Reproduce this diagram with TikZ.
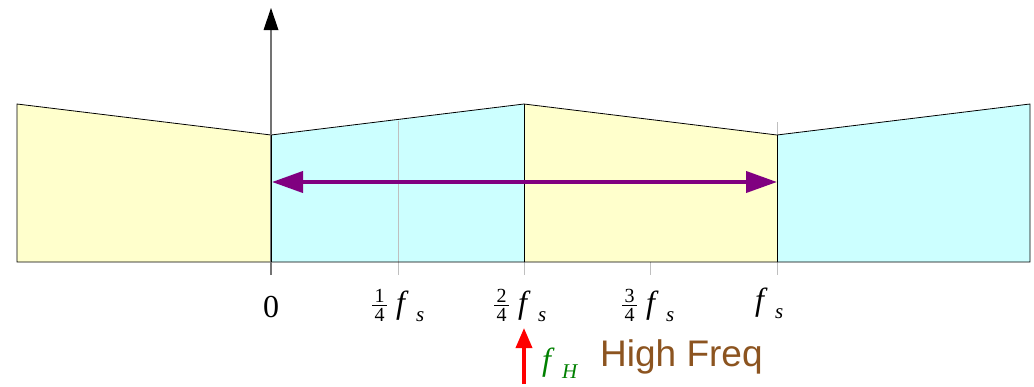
\documentclass[tikz,border=0pt]{standalone}
\usepackage{fontspec}
\setmainfont{Liberation Serif}
\newfontfamily\labelsans{Liberation Sans}
\usetikzlibrary{arrows.meta}
\definecolor{pyellow}{RGB}{255,255,204}
\definecolor{pcyan}{RGB}{204,255,255}
\definecolor{ppurple}{RGB}{128,0,128}
\definecolor{pgreen}{RGB}{0,128,0}
\definecolor{pbrown}{RGB}{140,84,32}
\newcommand\qfrac[2]{{\fontsize{20}{20}\selectfont\setlength{\tabcolsep}{0pt}\begin{tabular}[c]{@{\hspace{2.5pt}}c@{\hspace{2.5pt}}}#1\\[-3pt]\hline\noalign{\vskip 1.5pt}#2\end{tabular}}}
\newcommand\fsub[1]{{\itshape f}\hspace{11pt}\raisebox{-0.28em}{\fontsize{21}{21}\selectfont\itshape #1}}
\tikzset{
  band/.style={draw=black, line width=0.8pt},
  tick/.style={draw=black!25, line width=1pt},
  axisline/.style={draw=black!55, line width=1.6pt},
  ticklabel/.style={font=\fontsize{32}{34}\selectfont, inner sep=0pt},
}
\begin{document}
\begin{tikzpicture}[x=1pt, y=-1pt]
\useasboundingbox (0,0) rectangle (1034,386);
% corner coordinates
\coordinate (a0) at (17,104);
\coordinate (a1) at (271,135);
\coordinate (a2) at (524,104);
\coordinate (a3) at (777,135);
\coordinate (a4) at (1030,104);
% bands
\fill[pyellow] (17,262) -- (a0) -- (a1) -- (271,262) -- cycle;
\fill[pcyan] (271,262) -- (a1) -- (a2) -- (524,262) -- cycle;
\fill[pyellow] (524,262) -- (a2) -- (a3) -- (777,262) -- cycle;
\fill[pcyan] (777,262) -- (a3) -- (a4) -- (1030,262) -- cycle;
% ticks
\draw[tick] (398,121) -- (398,275);
\draw[tick] (524,262) -- (524,275);
\draw[tick] (650,262) -- (650,275);
\draw[tick] (777,122) -- (777,275);
% outlines
\draw[band] (17,262) -- (a0) -- (a1) -- (a2) -- (a3) -- (a4) -- (1030,262) -- cycle;
\draw[band] (a2) -- (524,262);
\draw[band] (a3) -- (777,262);
% axis
\coordinate (ax0) at (271,275);
\coordinate (ax1) at (271,8);
\draw[axisline] (ax0) -- (271,30);
\fill[black] (ax1) -- (263.5,30) -- (278.5,30) -- cycle;
\draw[band] (a1) -- (271,262);
% purple double arrow
\coordinate (pl) at (272,182);
\coordinate (pr) at (777,182);
\draw[ppurple, line width=4pt, {Triangle[length=31pt,width=21pt]}-{Triangle[length=31pt,width=21pt]}] (pl) -- (pr);
% labels
\node[ticklabel, anchor=base] (l0) at (271,317) {0};
\node[ticklabel, anchor=base west] (l1) at (372,313) {\qfrac{1}{4}\hspace{9pt}\fsub{s}};
\node[ticklabel, anchor=base west] (l2) at (494,313) {\qfrac{2}{4}\hspace{9pt}\fsub{s}};
\node[ticklabel, anchor=base west] (l3) at (622,313) {\qfrac{3}{4}\hspace{9pt}\fsub{s}};
\node[ticklabel, anchor=base west] (l4) at (755,310) {\fsub{s}};
% red arrow
\coordinate (rb) at (524,384);
\coordinate (rt) at (524,328);
\draw[red, line width=3.5pt, -{Triangle[length=20pt,width=16pt]}] (rb) -- (rt);
\node[ticklabel, text=pgreen, anchor=base west] (fh) at (542,370) {\fsub{H}};
\node[font=\labelsans\fontsize{37}{40}\selectfont, text=pbrown, inner sep=0pt, anchor=west] (hf) at (600,357) {High Freq};
\end{tikzpicture}
\end{document}
